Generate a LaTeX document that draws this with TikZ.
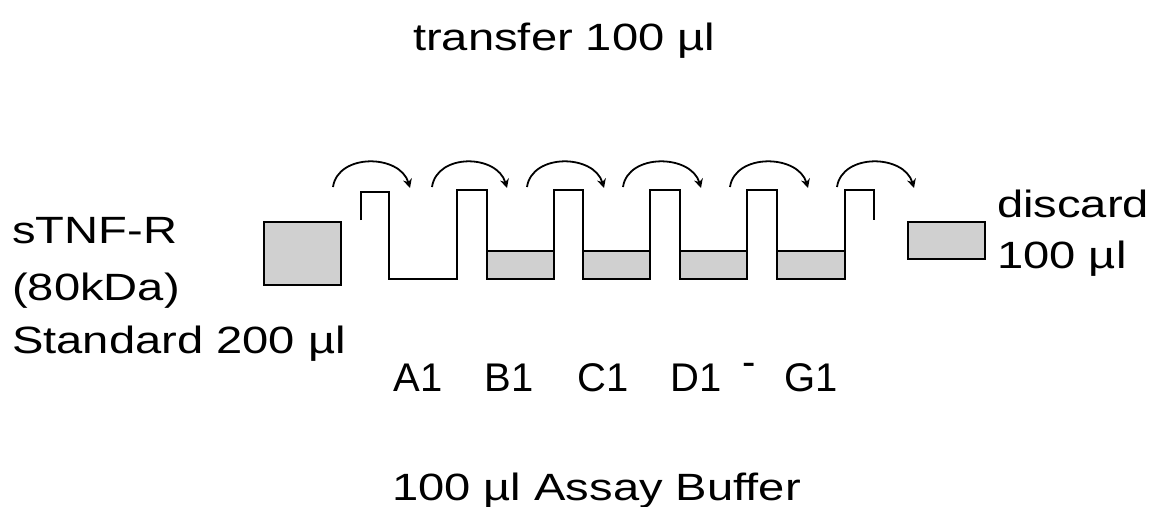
\documentclass[tikz,border=0pt]{standalone}
\usepackage{fontspec}
\setmainfont{Liberation Sans}
\usetikzlibrary{arrows.meta,calc}
\definecolor{wellgray}{RGB}{208,208,208}
\tikzset{
  txt/.style={inner sep=0pt, anchor=base west, font=\fontsize{38}{40}\selectfont},
  lbl/.style={inner sep=0pt, anchor=base, font=\fontsize{40}{42}\selectfont},
  box/.style={draw=black, fill=wellgray, line width=2.5pt},
  plate/.style={draw=black, line width=2.5pt, line join=miter},
  liquid/.style={draw=black, fill=wellgray, line width=2.5pt},
  transferarc/.style={draw=black, line width=1.8pt, -{Stealth[length=9pt,width=9pt]}}
}
\newcommand{\wide}[1]{\scalebox{1.24}[1]{#1}}
\begin{document}
\begin{tikzpicture}[x=1pt,y=-1pt]
\useasboundingbox (0,0) rectangle (1151,506);
% texts
\node[txt] (transfer) at (413,50) {\wide{transfer 100 µl}};
\node[txt] (std1) at (12,243) {\wide{sTNF-R}};
\node[txt] (std2) at (12,300) {\wide{(80kDa)}};
\node[txt] (std3) at (12,353) {\wide{Standard 200 µl}};
\node[txt] (disc1) at (997,217) {\wide{discard}};
\node[txt] (disc2) at (997,268) {\wide{100 µl}};
\node[txt] (buffer) at (392,500) {\wide{100 µl Assay Buffer}};
% well labels
\node[lbl] (A1) at (418,391) {A1};
\node[lbl] (B1) at (509,391) {B1};
\node[lbl] (C1) at (603,391) {C1};
\node[lbl] (D1) at (696,391) {D1};
\node[lbl] (dash) at (749,375) {-};
\node[lbl] (G1) at (811,391) {G1};
% standard and discard boxes
\path[box] (264,222) rectangle (341,285);
\path[box] (908,222) rectangle (985,259);
% liquid in wells B1..G1
\path[liquid] (487,251) rectangle (554,279);
\path[liquid] (583,251) rectangle (650,279);
\path[liquid] (680,251) rectangle (747,279);
\path[liquid] (777,251) rectangle (845,279);
% plate profile
\draw[plate] (361,220) -- (361,192) -- (389,192) -- (389,279) -- (457,279)
  -- (457,190) -- (487,190) -- (487,279) -- (554,279)
  -- (554,190) -- (583,190) -- (583,279) -- (650,279)
  -- (650,190) -- (680,190) -- (680,279) -- (747,279)
  -- (747,190) -- (777,190) -- (777,279) -- (845,279)
  -- (845,190) -- (874,190) -- (874,220);
% transfer arcs
\foreach \i/\a/\b in {1/333/410, 2/432/507, 3/527/604, 4/623/701, 5/730/808, 6/837/914}{
  \coordinate (s\i) at (\a,187);
  \coordinate (e\i) at (\b,188);
  \draw[transferarc] (s\i) .. controls ($(s\i)+(5,-34)$) and ($(e\i)+(-10,-34)$) .. (e\i);
}
\end{tikzpicture}
\end{document}
